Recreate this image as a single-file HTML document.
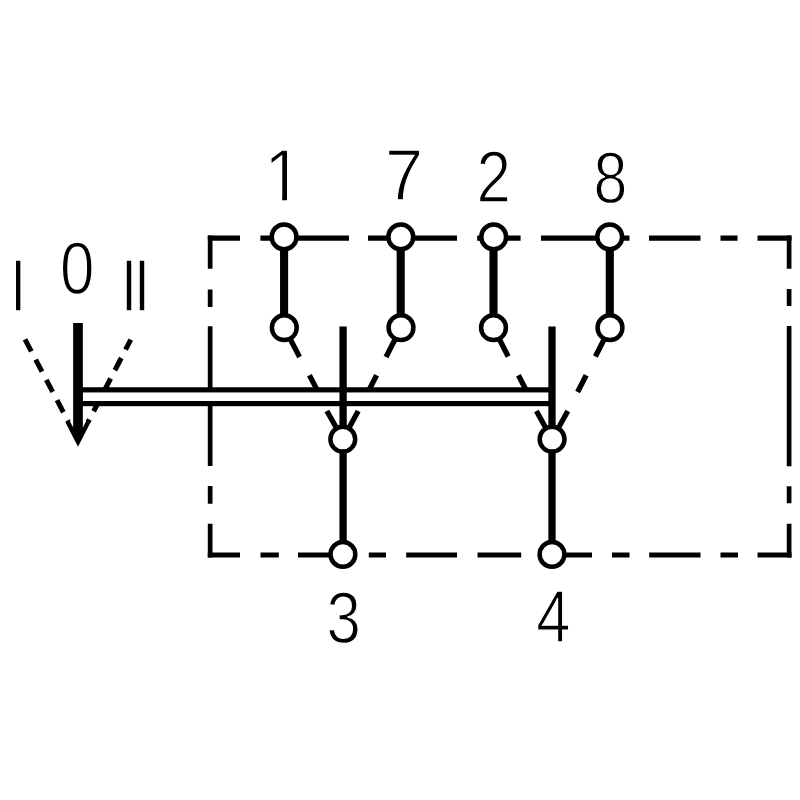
<!DOCTYPE html>
<html lang="en">
<head>
<meta charset="utf-8">
<title>Switch diagram</title>
<style>
html,body{margin:0;padding:0;background:#fff;}
body{width:800px;height:800px;overflow:hidden;}
svg{display:block;filter:blur(0.45px);}
text{font-family:"Liberation Sans",sans-serif;fill:#000;stroke:#fff;stroke-width:1.4px;stroke-linejoin:miter;}
.b{stroke:#000;stroke-width:5.2;fill:none;}
.k{stroke:#000;stroke-width:8.1;fill:none;}
.v{stroke:#000;stroke-width:7.3;fill:none;}
.d{stroke:#000;stroke-width:5.3;fill:none;}
.c{stroke:#000;stroke-width:4.5;fill:#fff;}
</style>
</head>
<body>
<svg width="800" height="800" viewBox="0 0 800 800">
<rect width="800" height="800" fill="#fff"/>

<!-- dashed enclosure -->
<g stroke="#000" stroke-width="5.1" fill="none">
  <path d="M207.8 238.1H240M260.4 238.1H349M368 238.1H457M477.2 238.1H520.6M541 238.1H629.5M649 238.1H700.5M720.5 238.1H737.5M757.5 238.1H791.5"/>
  <path d="M207.8 555H240M260.5 555H278.8M298 555H343M368.8 555H386M406.2 555H457M477.5 555H521.2M541 555H592M612 555H629.5M649.2 555H700.5M720.5 555H738M757.5 555H791.5"/>
</g>
<g stroke="#000" stroke-width="4.7" fill="none">
  <path d="M210.15 235.6V268.8M210.15 289.5V307M210.15 326.2V466M210.15 486V503.8M210.15 523.8V557.5"/>
  <path d="M789.1 235.6V268.8M789.1 289V306M789.1 326V466.2M789.1 486.2V503.2M789.1 523.8V557.5"/>
</g>

<!-- selector dashed lines (left) -->
<g stroke="#000" stroke-width="5" fill="none">
  <path d="M25 339.4L68.4 421.8" stroke-dasharray="13.6 9.3"/>
  <path d="M130.8 339.6L88 422.2" stroke-dasharray="13.8 9.3" stroke-dashoffset="2.4"/>
</g>

<!-- contact dashed lines -->
<g class="d">
  <path d="M284.3 327.7L299.6 357M309.4 375.3L318.6 392.7M326.9 411L342.8 439.2"/>
  <path d="M401 327.7L386 357M376.6 375.3L367.6 392.7M358.2 411L342.8 439.2"/>
  <path d="M493.5 327.7L508.2 356.5M518.4 375.3L527.5 392.7M536.4 411L552.1 439.2"/>
  <path d="M610 327.7L595.4 356.5M586.2 375.2L577.6 392M567.8 411L552.1 439.2"/>
</g>

<!-- double bar -->
<rect x="80" y="389.85" width="472" height="13.75" fill="#fff" stroke="#000" stroke-width="5.2"/>

<!-- arrow -->
<path d="M78 323V432" stroke="#000" stroke-width="9.7" fill="none"/>
<path d="M78 446.8L65.5 422.5L69.5 420.5L73.3 427.8H82.7L86.6 420.3L90.6 422.3Z" fill="#000"/>

<!-- vertical thin lines -->
<path class="v" d="M343.1 326.6V554M552 326.6V554"/>
<!-- thick links -->
<path class="k" d="M284.1 237V327.7M400.7 237V327.7M493.5 237V327.7M609.8 237V327.7"/>

<!-- terminals -->
<g class="c">
  <circle cx="284.1" cy="236.9" r="12.4"/>
  <circle cx="400.8" cy="236.9" r="12.4"/>
  <circle cx="493.7" cy="236.9" r="12.4"/>
  <circle cx="609.7" cy="236.9" r="12.4"/>
  <circle cx="284.3" cy="327.7" r="12.4"/>
  <circle cx="401" cy="327.7" r="12.4"/>
  <circle cx="493.5" cy="327.7" r="12.4"/>
  <circle cx="610" cy="327.7" r="12.4"/>
  <circle cx="342.8" cy="439.2" r="12.4"/>
  <circle cx="552.1" cy="439.2" r="12.4"/>
  <circle cx="342.9" cy="554.4" r="12.4"/>
  <circle cx="552" cy="554.4" r="12.4"/>
</g>

<!-- labels -->
<defs>
  <clipPath id="one"><path d="M-5 -60H40V-6.27H24.62V2H19.43V-6.27H-5Z"/></clipPath>
</defs>
<g>
  <text transform="translate(264.22 201.30) scale(0.925 1)" font-size="74.49" clip-path="url(#one)">1</text>
  <text transform="translate(385.03 199.50) scale(0.940 1)" font-size="72.82">7</text>
  <text transform="translate(476.48 201.70) scale(0.859 1)" font-size="72.04">2</text>
  <text transform="translate(593.56 203.29) scale(0.842 1)" font-size="72.32">8</text>
  <text transform="translate(326.55 642.99) scale(0.849 1)" font-size="72.74">3</text>
  <text transform="translate(536.21 642.30) scale(0.827 1)" font-size="74.27">4</text>
  <text transform="translate(59.99 293.58) scale(0.843 1)" font-size="73.45">0</text>
  <text transform="translate(10 311.3) scale(0.79 1)" font-size="74.71">I</text>
  <text transform="translate(120.5 311.3) scale(0.82 1)" font-size="74.71" letter-spacing="-5">II</text>
</g>
</svg>
</body>
</html>
